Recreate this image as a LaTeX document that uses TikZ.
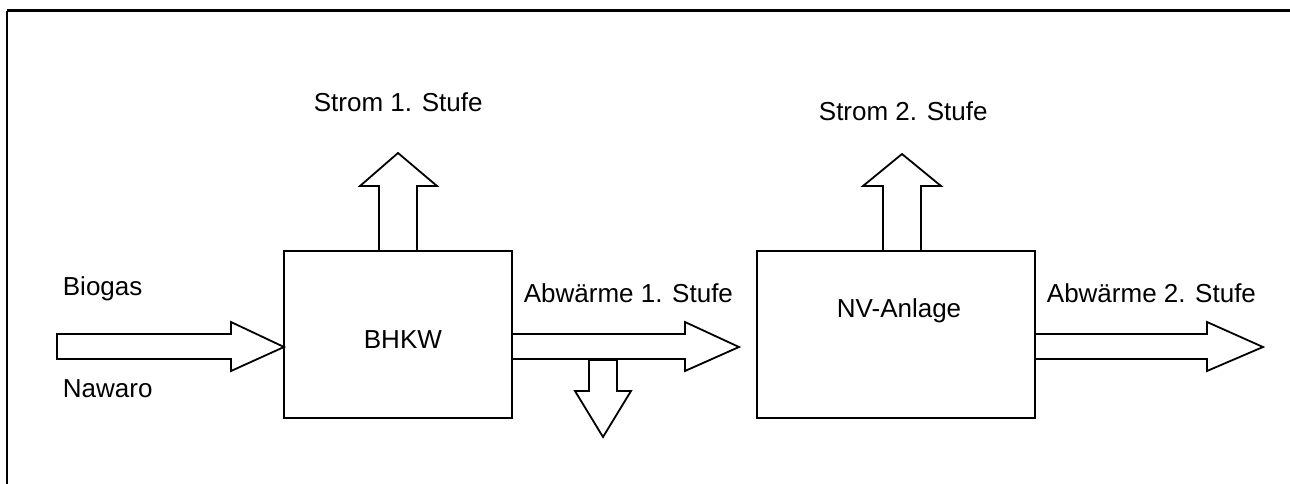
\documentclass[tikz,border=0pt]{standalone}
\usepackage{fontspec}
\setmainfont{Liberation Sans}
\begin{document}
\begin{tikzpicture}[x=1pt,y=-1pt,line width=1.8pt,line join=miter,
  lbl/.style={inner sep=0pt,anchor=base west,font=\fontsize{26}{30}\selectfont},
  blk/.style={draw,line width=1.8pt,inner sep=0pt},
  barrow/.style={draw,fill=white,line width=1.8pt}]
\useasboundingbox (0,0) rectangle (1290,484);
\clip (0,0) rectangle (1290,484);
\draw[line width=2.4pt] (7,10.7) -- (1300,10.7);
\draw[line width=2.4pt] (7,10.7) -- (7,500);
% block arrows
\draw[barrow] (57,334) -- (231,334) -- (231,322) -- (284,347) -- (231,371) -- (231,359) -- (57,359) -- cycle;
\draw[barrow] (379,251) -- (379,186) -- (360,186) -- (398,153) -- (437,186) -- (417,186) -- (417,251);
\draw[barrow] (512,334) -- (685,334) -- (685,322) -- (739,347) -- (685,371) -- (685,359) -- (512,359);
\draw[barrow] (589,360) -- (589,391) -- (575,391) -- (603,437) -- (631,391) -- (617,391) -- (617,360) -- cycle;
\draw[barrow] (883,251) -- (883,186) -- (863,186) -- (902,154) -- (941,186) -- (921,186) -- (921,251);
\draw[barrow] (1035,334) -- (1207,334) -- (1207,322) -- (1263,347) -- (1207,371) -- (1207,359) -- (1035,359);
% boxes
\node[blk,minimum width=228pt,minimum height=167pt] (bhkw) at (398,334.5) {};
\node[blk,minimum width=278pt,minimum height=167pt] (nv) at (896,334.5) {};
% labels
\node[lbl] (tbio) at (62,295) {Biogas};
\node[lbl] (tnaw) at (62,397) {Nawaro};
\node[lbl] (ts1) at (313,112) {Strom 1. Stufe};
\node[lbl] (ta1) at (523,302) {Abwärme 1. Stufe};
\node[lbl] (ts2) at (818,121) {Strom 2. Stufe};
\node[lbl] (tnv) at (836,317) {NV-Anlage};
\node[lbl] (ta2) at (1046,302) {Abwärme 2. Stufe};
\node[lbl] (tbh) at (363,348) {BHKW};
\end{tikzpicture}
\end{document}
